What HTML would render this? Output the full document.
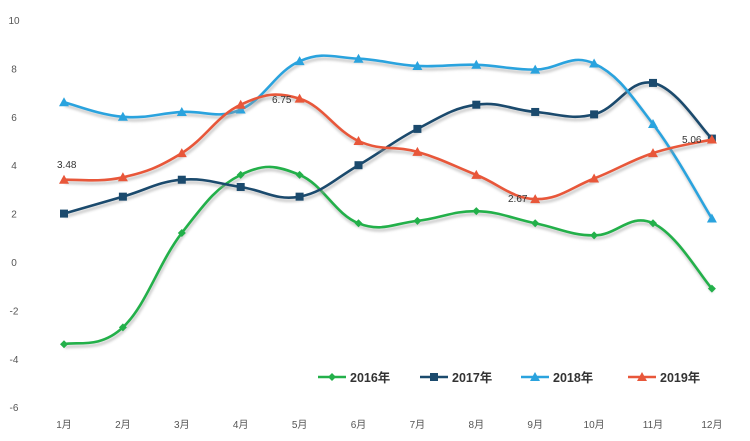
<!DOCTYPE html>
<html><head><meta charset="utf-8"><style>
html,body{margin:0;padding:0;background:#fff;}
svg{display:block;}
text{font-family:"Liberation Sans","Noto Sans CJK SC",sans-serif;}
</style></head><body>
<svg id="c" width="750" height="441" xmlns="http://www.w3.org/2000/svg">
<defs><filter id="sh" x="-5%" y="-5%" width="110%" height="120%"><feGaussianBlur stdDeviation="1.2"/></filter></defs>
<g id="g"></g>
</svg>
<script>
const g=document.getElementById('g');const NS='http://www.w3.org/2000/svg';
function el(t,a,txt){const e=document.createElementNS(NS,t);for(const k in a)e.setAttribute(k,a[k]);if(txt!=null)e.textContent=txt;g.appendChild(e);return e;}
const Y=v=>262-24.2*v, X=i=>64+i*58.9;
for(let v=10;v>=-6;v-=2)el('text',{x:14,y:Y(v)+4,'font-size':10,fill:'#555','text-anchor':'middle'},v);
for(let i=0;i<12;i++)el('text',{x:X(i),y:428,'font-size':10,fill:'#555','text-anchor':'middle'},(i+1)+'月');
const S=[
{c:'#23b04a',m:'d',d:[-3.4,-2.7,1.2,3.6,3.6,1.6,1.7,2.1,1.6,1.1,1.6,-1.1]},
{c:'#1b4a6d',m:'s',d:[2.0,2.7,3.4,3.1,2.7,4.0,5.5,6.5,6.2,6.1,7.4,5.1]},
{c:'#2aa3de',m:'t',d:[6.6,6.0,6.2,6.3,8.3,8.4,8.1,8.15,7.95,8.2,5.7,1.8]},
{c:'#e8573a',m:'t',d:[3.4,3.5,4.5,6.5,6.75,5.0,4.55,3.6,2.6,3.45,4.5,5.06]}];
function path(d){const p=d.map((v,i)=>[X(i),Y(v)]);let s='M'+p[0];for(let i=0;i<p.length-1;i++){const p0=p[i-1]||p[i],p1=p[i],p2=p[i+1],p3=p[i+2]||p2;const t=0.2;s+=' C'+(p1[0]+(p2[0]-p0[0])*t)+','+(p1[1]+(p2[1]-p0[1])*t)+' '+(p2[0]-(p3[0]-p1[0])*t)+','+(p2[1]-(p3[1]-p1[1])*t)+' '+p2;}return s;}
function mk(m,x,y,c){if(m=='d')el('path',{d:`M${x},${y-4}L${x+4},${y}L${x},${y+4}L${x-4},${y}Z`,fill:c});else if(m=='s')el('rect',{x:x-4,y:y-4,width:8,height:8,fill:c});else el('path',{d:`M${x},${y-5}L${x+5},${y+4}L${x-5},${y+4}Z`,fill:c});}
S.forEach(s=>{const d=path(s.d);el('path',{d,fill:'none',stroke:'#999',opacity:0.5,'stroke-width':3,transform:'translate(1,3)',filter:'url(#sh)'});el('path',{d,fill:'none',stroke:s.c,'stroke-width':2.6});s.d.forEach((v,i)=>mk(s.m,X(i),Y(v),s.c));});
el('text',{x:57,y:168,'font-size':10,fill:'#333'},'3.48');
el('text',{x:272,y:103,'font-size':10,fill:'#333'},'6.75');
el('text',{x:508,y:202,'font-size':10,fill:'#333'},'2.67');
el('text',{x:682,y:143,'font-size':10,fill:'#333'},'5.06');
const L=[[318,'2016年',0],[420,'2017年',1],[521,'2018年',2],[628,'2019年',3]];
L.forEach(([x,t,i])=>{const s=S[i];el('line',{x1:x,y1:377,x2:x+28,y2:377,stroke:s.c,'stroke-width':2.5});mk(s.m,x+14,377,s.c);el('text',{x:x+32,y:382,'font-size':12.5,'font-weight':'bold',fill:'#333'},t);});
</script>
</body></html>
